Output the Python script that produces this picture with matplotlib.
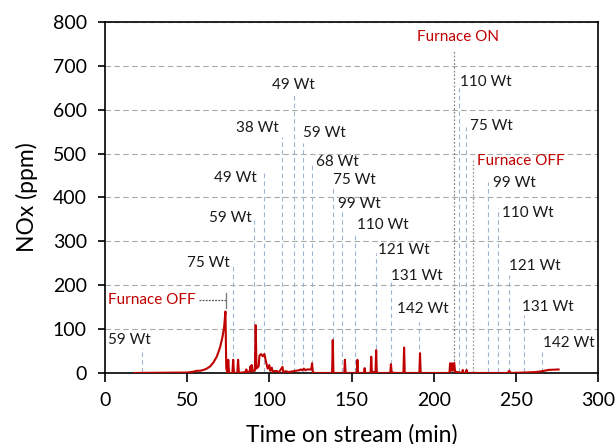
import matplotlib.pyplot as plt

plt.rcParams['font.family'] = ['Lato', 'DejaVu Sans']

# NOx trace (time in min, NOx in ppm)
time_min = [18, 50, 54, 56, 58, 60, 62, 64, 66, 68, 70, 71.5, 72.5, 73.3, 73.8, 74.5,
            75, 75.5, 77.5, 78, 78.5, 80.5, 81, 81.5, 85.5, 86, 86.5, 88, 88.5, 89,
            89.3, 89.8, 91.2, 91.7, 92.2, 93.5, 94, 95, 96, 97, 98, 99, 100, 100.5,
            101.5, 102, 104, 106, 108, 108.5, 110, 112, 116, 118, 119, 120, 121, 122,
            123, 125.5, 126, 126.5, 128, 138.2, 138.6, 139, 145.6, 146, 146.4, 153.2,
            153.6, 154, 157.6, 158, 158.4, 161.6, 162, 162.4, 164.6, 165, 165.4, 173.6,
            174, 174.4, 176, 181.6, 182, 182.4, 191.3, 191.7, 192.1, 209.6, 210, 210.4,
            211, 211.6, 212.5, 213, 217.3, 217.7, 218.1, 219.6, 220, 220.4, 245, 246,
            247, 255, 262, 266, 270, 276]
nox_ppm = [0, 1, 3, 5, 5, 7, 10, 15, 24, 37, 58, 82, 105, 140, 10, 0,
           30, 0, 0, 30, 0, 0, 30, 0, 2, 8, 2, 3, 15, 3,
           18, 5, 5, 109, 10, 15, 40, 43, 38, 43, 25, 10, 18, 5,
           12, 3, 5, 2, 14, 2, 4, 2, 5, 6, 8, 6, 10, 6,
           8, 8, 22, 1, 0, 0, 75, 0, 0, 30, 0, 0,
           30, 0, 0, 11, 0, 0, 37, 2, 2, 52, 0, 0,
           20, 2, 0, 0, 58, 0, 0, 45, 0, 0, 22, 5,
           22, 5, 23, 3, 0, 7, 0, 0, 7, 0, 0, 5,
           0, 1, 2, 4, 7, 8]

# sample labels (power) and where their leader lines sit
wt_labels = ['59 Wt', '75 Wt', '59 Wt', '49 Wt', '38 Wt', '49 Wt', '59 Wt', '68 Wt',
             '75 Wt', '99 Wt', '110 Wt', '121 Wt', '131 Wt', '142 Wt',
             '110 Wt', '75 Wt', '99 Wt', '110 Wt', '121 Wt', '131 Wt', '142 Wt']
wt_time = [22.3, 78, 90.9, 96.6, 107.8, 115.2, 120.2, 126.2,
           138.6, 144, 152, 165, 174, 191,
           215.2, 219.8, 233, 239.2, 246, 255.2, 266.2]
wt_top = [57, 248, 349, 455, 538, 633, 524, 478,
          424, 371, 319, 273, 212, 116,
          649, 560, 435, 375, 223, 132, 52]
# label anchor (x, y in data units) and alignment
wt_text_x = [1.8, 76, 89.3, 92.3, 105.5, 114.6, 120.7, 128.4,
             138.8, 141.8, 153.2, 166, 174, 177.6,
             216, 222, 236.2, 241.4, 246, 254, 266.4]
wt_text_y = [75, 250, 353, 444, 558, 656, 547, 481,
             440, 385, 337, 280, 222, 146,
             663, 563, 432, 364, 244, 150, 68]
wt_ha = ['left', 'right', 'right', 'right', 'right', 'center', 'left', 'left',
         'left', 'left', 'left', 'left', 'left', 'left',
         'left', 'left', 'left', 'left', 'left', 'left', 'left']

red = '#C00000'
leader = '#9DB3CF'

fig = plt.figure(figsize=(6.15, 4.44), dpi=100)
ax = fig.add_axes([0.1707, 0.16, 0.8017, 0.7905])

ax.plot(time_min, nox_ppm, color=red, lw=1.5, zorder=3)

for t, top in zip(wt_time, wt_top):
    ax.plot([t, t], [3, top], color=leader, lw=0.8, ls=(0, (4, 3)), zorder=2)
for lab, tx, ty, ha in zip(wt_labels, wt_text_x, wt_text_y, wt_ha):
    ax.text(tx, ty, lab, ha=ha, va='center', fontsize=11, color='#1a1a1a', zorder=4)

# furnace events
ax.plot([212.4, 212.4], [3, 736], color='#888888', lw=0.9, ls=(0, (1.5, 1.5)), zorder=2)
ax.text(190, 765, 'Furnace ON', ha='left', va='center', fontsize=11, color=red)
ax.plot([224, 224], [3, 485], color='#999999', lw=0.9, ls=(0, (1.5, 1.5)), zorder=2)
ax.text(226.2, 483, 'Furnace OFF', ha='left', va='center', fontsize=11, color=red)
ax.text(1.8, 166, 'Furnace OFF', ha='left', va='center', fontsize=11, color=red)
ax.plot([57.5, 73.9], [166, 166], color='#555555', lw=0.9, ls=(0, (1.5, 1)), zorder=2)
ax.plot([73.9, 73.9], [148, 182], color='#777777', lw=0.9, zorder=2)

ax.set_xlim(0, 300)
ax.set_ylim(0, 800)
ax.set_xticks(range(0, 301, 50))
ax.set_yticks(range(0, 801, 100))
ax.yaxis.grid(True, color='#aaaaaa', ls=(0, (5, 3)), lw=0.8)
ax.set_axisbelow(True)
ax.tick_params(labelsize=14, width=1.2, direction='out', colors='black')
ax.tick_params(axis='x', length=6.5, pad=7)
ax.tick_params(axis='y', length=5, pad=8)
for s in ax.spines.values():
    s.set_linewidth(1.2)
    s.set_color('black')

ax.set_xlabel('Time on stream (min)', fontsize=16.5)
ax.set_ylabel('NOx (ppm)', fontsize=16.5)
ax.xaxis.set_label_coords(0.5, -0.145)
ax.yaxis.set_label_coords(-0.135, 0.5)

fig.savefig('out.png', dpi=100)
